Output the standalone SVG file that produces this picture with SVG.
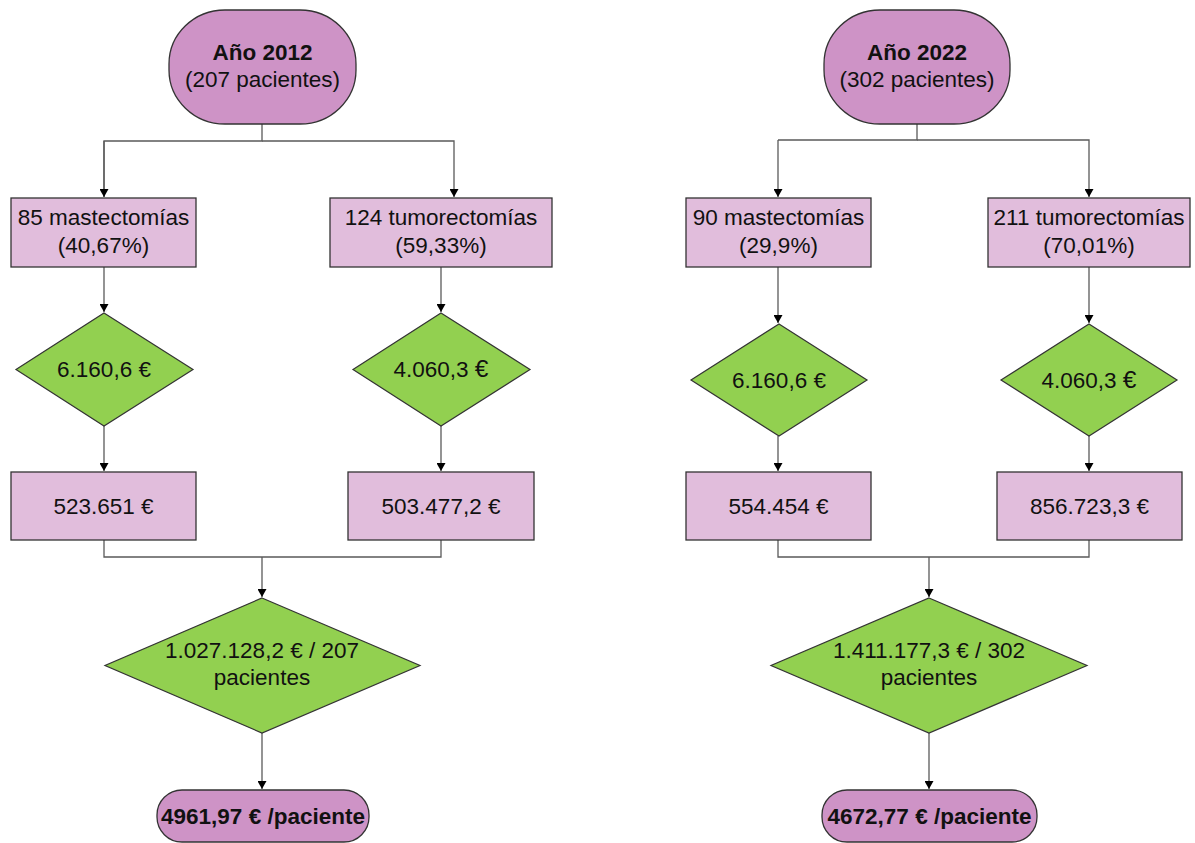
<svg xmlns="http://www.w3.org/2000/svg" width="1195" height="843" viewBox="0 0 1195 843">
<style>
text{font-family:"Liberation Sans",Arial,sans-serif;font-size:22.5px;fill:#111;text-anchor:middle}
.b{font-weight:bold}
.term{fill:#CE93C6;stroke:#333;stroke-width:1.3}
.box{fill:#E1BDDC;stroke:#333;stroke-width:1.3}
.dia{fill:#92D050;stroke:#333;stroke-width:1.2}
.c{fill:none;stroke:#5a5a5a;stroke-width:1.3}
.a{marker-end:url(#ar)}
</style>
<defs>
<marker id="ar" markerUnits="userSpaceOnUse" markerWidth="9" markerHeight="9" refX="8" refY="4.5" orient="auto">
<path d="M0,0 L8,4.5 L0,9 z" fill="#000"/>
</marker>
</defs>
<rect width="1195" height="843" fill="#fff"/>
<g id="connectors">
<path class="c" d="M262,124 V141 H104 V197"/>
<path class="c a" d="M104,141 V197"/>
<path class="c a" d="M262,141 H454 V197"/>
<path class="c a" d="M104,267 V312"/>
<path class="c a" d="M441,267 V312"/>
<path class="c a" d="M104,426 V471"/>
<path class="c a" d="M441,426 V471"/>
<path class="c" d="M104,540 V557 H441 V540"/>
<path class="c a" d="M262,557 V597"/>
<path class="c a" d="M262,733 V789"/>
<path class="c" d="M917,124 V140 H778"/>
<path class="c a" d="M778,140 V197"/>
<path class="c a" d="M917,140 H1089 V197"/>
<path class="c a" d="M778,267 V323"/>
<path class="c a" d="M1089,267 V323"/>
<path class="c a" d="M778,436 V471"/>
<path class="c a" d="M1089,436 V471"/>
<path class="c" d="M778,540 V557 H1089 V540"/>
<path class="c a" d="M929,557 V597"/>
<path class="c a" d="M929,733 V789"/>
</g>
<g id="start2012">
<rect class="term" x="169" y="10" width="187" height="114" rx="56" ry="54"/>
<text class="b" x="262.5" y="60">Año 2012</text>
<text x="262.5" y="87">(207 pacientes)</text>
</g>
<g id="mast2012">
<rect class="box" x="11" y="198" width="185" height="69"/>
<text x="103.5" y="225">85 mastectomías</text>
<text x="103.5" y="253">(40,67%)</text>
</g>
<g id="tumor2012">
<rect class="box" x="330" y="198" width="222" height="69"/>
<text x="441" y="225">124 tumorectomías</text>
<text x="441" y="253">(59,33%)</text>
</g>
<g id="costMast2012">
<polygon class="dia" points="104,313 193,369.5 104,426 16,369.5"/>
<text x="104" y="377">6.160,6 €</text>
</g>
<g id="costTumor2012">
<polygon class="dia" points="441,313 530,369.5 441,426 353,369.5"/>
<text x="441" y="377">4.060,3 <tspan font-size="24.5">€</tspan></text>
</g>
<g id="totMast2012">
<rect class="box" x="11" y="472" width="185" height="68"/>
<text x="103.5" y="514">523.651 €</text>
</g>
<g id="totTumor2012">
<rect class="box" x="348" y="472" width="186" height="68"/>
<text x="441" y="514">503.477,2 €</text>
</g>
<g id="div2012">
<polygon class="dia" points="262,598 420,665.5 262,733 105,665.5"/>
<text x="262" y="658">1.027.128,2 € / 207</text>
<text x="262" y="685">pacientes</text>
</g>
<g id="res2012">
<rect class="term" x="157" y="790" width="212" height="52" rx="25" ry="25"/>
<text class="b" x="263" y="824">4961,97 € /paciente</text>
</g>
<g id="start2022">
<rect class="term" x="824" y="10" width="186" height="114" rx="56" ry="54"/>
<text class="b" x="917" y="60">Año 2022</text>
<text x="917" y="87">(302 pacientes)</text>
</g>
<g id="mast2022">
<rect class="box" x="686" y="198" width="185" height="69"/>
<text x="778.5" y="225">90 mastectomías</text>
<text x="778.5" y="253">(29,9%)</text>
</g>
<g id="tumor2022">
<rect class="box" x="988" y="198" width="202" height="69"/>
<text x="1089" y="225">211 tumorectomías</text>
<text x="1089" y="253">(70,01%)</text>
</g>
<g id="costMast2022">
<polygon class="dia" points="779,324 867,380 779,436 691,380"/>
<text x="779" y="388">6.160,6 €</text>
</g>
<g id="costTumor2022">
<polygon class="dia" points="1089,324 1177,380 1089,436 1001,380"/>
<text x="1089" y="388">4.060,3 <tspan font-size="24.5">€</tspan></text>
</g>
<g id="totMast2022">
<rect class="box" x="686" y="472" width="185" height="68"/>
<text x="778.5" y="514">554.454 €</text>
</g>
<g id="totTumor2022">
<rect class="box" x="997" y="472" width="185" height="68"/>
<text x="1089.5" y="514">856.723,3 €</text>
</g>
<g id="div2022">
<polygon class="dia" points="929,598 1087,665.5 929,733 771,665.5"/>
<text x="929" y="658">1.411.177,3 € / 302</text>
<text x="929" y="685">pacientes</text>
</g>
<g id="res2022">
<rect class="term" x="822" y="790" width="215" height="52" rx="25" ry="25"/>
<text class="b" x="929.5" y="824">4672,77 € /paciente</text>
</g>
</svg>
